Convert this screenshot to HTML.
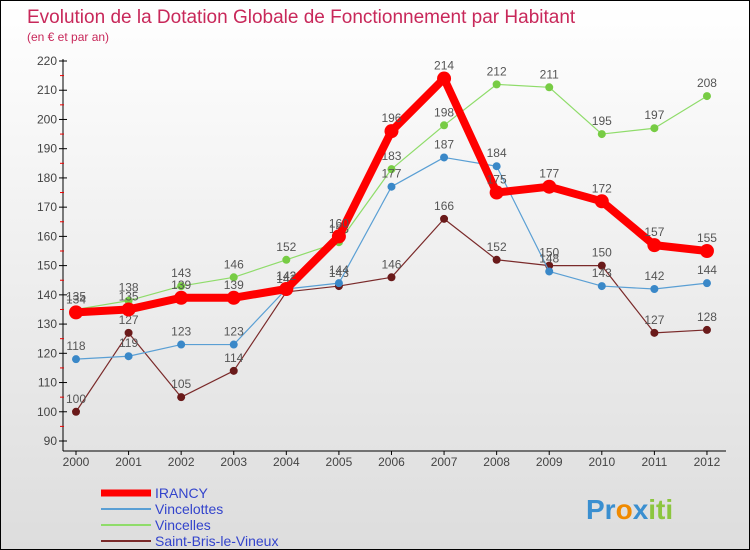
<!DOCTYPE html>
<html><head><meta charset="utf-8"><style>
body{margin:0;}
#wrap{width:748px;height:548px;border:1px solid #000;background:linear-gradient(#fff,#ddd);position:relative;font-family:"Liberation Sans",sans-serif;overflow:hidden}
</style></head><body>
<div id="wrap">
<svg id="svg" width="748" height="548">
<text x="26" y="22" font-size="19" fill="#c8285a">Evolution de la Dotation Globale de Fonctionnement par Habitant</text>
<text x="26" y="40" font-size="12" fill="#c8285a">(en € et par an)</text>
<g id="axes"></g><g id="series"></g><g id="legend"></g>
<text x="585" y="518" font-size="28" font-weight="bold"><tspan fill="#3a8fd0">Pr</tspan><tspan fill="#f08a00">o</tspan><tspan fill="#3a8fd0">x</tspan><tspan fill="#8cc63f">iti</tspan></text>
</svg></div>
<script>
const years=["2000","2001","2002","2003","2004","2005","2006","2007","2008","2009","2010","2011","2012"];
const yTicks=[90,100,110,120,130,140,150,160,170,180,190,200,210,220];
const irancy=[134,135,139,139,142,160,196,214,175,177,172,157,155];
const vincelottes=[118,119,123,123,142,144,177,187,184,148,143,142,144];
const vincelles=[135,138,143,146,152,158,183,198,212,211,195,197,208];
const saintBris=[100,127,105,114,141,143,146,166,152,150,150,127,128];
const NS="http://www.w3.org/2000/svg";
function X(i){return 75+i*52.58;}
function Y(v){return 60+(220-v)*380/130;}
function mk(tag,attrs,parent,txt){const e=document.createElementNS(NS,tag);for(const k in attrs)e.setAttribute(k,attrs[k]);if(txt!==undefined)e.textContent=txt;parent.appendChild(e);return e;}
const ax=document.getElementById('axes');
let a=mk('line',{x1:62,y1:58,x2:62,y2:450,stroke:'#000'},ax);
a=mk('line',{x1:62,y1:450,x2:725,y2:450,stroke:'#000'},ax);
yTicks.forEach(v=>{mk('line',{x1:58,y1:Y(v),x2:66,y2:Y(v),stroke:'#000'},ax);
 if(v<220)mk('line',{x1:59,y1:Y(v+5),x2:63,y2:Y(v+5),stroke:'#e00'},ax);
 const t=mk('text',{x:56,y:Y(v)+4,'font-size':12,'text-anchor':'end',fill:'#444'},ax,v);});
years.forEach((y,i)=>{mk('line',{x1:X(i),y1:450,x2:X(i),y2:454,stroke:'#000'},ax);
 const t=mk('text',{x:X(i),y:465,'font-size':12,'text-anchor':'middle',fill:'#444'},ax,y);});
const sg=document.getElementById('series');
function draw(data,color,w,r,name,dot){
 const g=mk('g',{},sg);
 const p=mk('polyline',{points:data.map((v,i)=>X(i)+','+Y(v)).join(' '),fill:'none',stroke:color,'stroke-width':w,'stroke-linejoin':'round'},g);
 
 data.forEach((v,i)=>{const c=mk('circle',{cx:X(i),cy:Y(v),r:r,fill:dot},g);
  const t=mk('text',{x:X(i),y:Y(v)-9,'font-size':12,'text-anchor':'middle',fill:'#555'},g,v);});
}
draw(saintBris,'#7a2a2a',1.2,4,'saint-bris','#6a1a1a');
draw(vincelles,'#8fdc6a',1.2,4,'vincelles','#77cc44');
draw(vincelottes,'#5a9fd4',1.2,4,'vincelottes','#3a88c8');
draw(irancy,'#f00',8,7,'irancy','#f00');
const lg=document.getElementById('legend');
[['IRANCY','#f00',7],['Vincelottes','#5a9fd4',2],['Vincelles','#8fdc6a',2],['Saint-Bris-le-Vineux','#7a2a2a',2]].forEach((e,i)=>{
 const y=492+i*16;const g=mk('g',{},lg);
 mk('line',{x1:100,y1:y,x2:150,y2:y,stroke:e[1],'stroke-width':e[2]},g);
 mk('text',{x:154,y:y+5,'font-size':14,fill:'#3344cc'},g,e[0]);});
</script></body></html>
